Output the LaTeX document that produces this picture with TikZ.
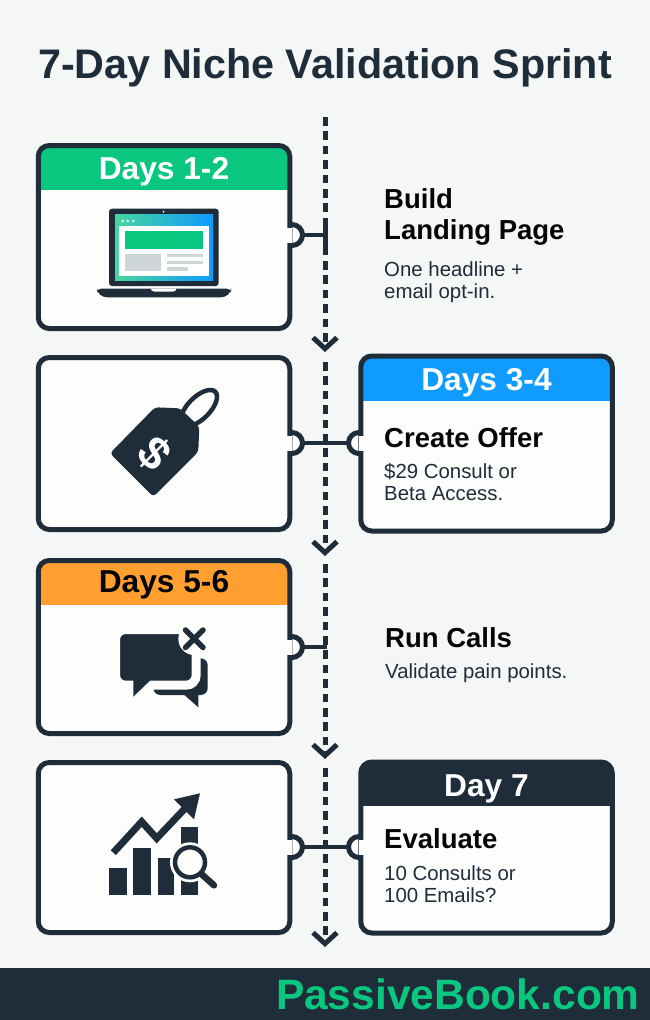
\documentclass[tikz,border=0pt]{standalone}
\usepackage{fontspec}
\setmainfont{Liberation Sans}
\usetikzlibrary{positioning,calc,arrows.meta}
\definecolor{navy}{HTML}{1F2D3A}
\definecolor{paper}{HTML}{F5F6F6}
\definecolor{cardwhite}{HTML}{FDFDFC}
\definecolor{hgreen}{HTML}{0AC77F}
\definecolor{hblue}{HTML}{0F9BFF}
\definecolor{horange}{HTML}{FF9F30}
\definecolor{softgray}{HTML}{CFD6D8}
\tikzset{
	card/.style={draw=navy,line width=5pt,fill=cardwhite,rounded corners=11pt,inner sep=0pt,outer sep=0pt,minimum width=251.5pt},
	cardhead/.style 2 args={path picture={\fill[#1,sharp corners] (path picture bounding box.north west) rectangle ([yshift=-#2]path picture bounding box.north east);}},
	headtext/.style={anchor=base,inner sep=0pt,font=\fontsize{31.7}{32}\selectfont\bfseries},
	steptitle/.style={anchor=base west,align=left,inner sep=0pt,text=black!90!navy,font=\fontsize{27.5}{31}\selectfont\bfseries},
	stepbody/.style={anchor=base west,align=left,inner sep=0pt,text=navy,font=\fontsize{20.4}{22}\selectfont},
	notch/.style={circle,draw=navy,line width=5pt,fill=cardwhite,minimum size=21pt,inner sep=0pt,outer sep=0pt},
	notchgap/.style={fill=cardwhite,minimum width=7pt,minimum height=15pt,inner sep=0pt,outer sep=0pt},
	linkline/.style={draw=navy,line width=4.5pt},
	spine/.style={draw=navy,line width=5pt,dash pattern=on 8.5pt off 5.9pt,-{Straight Barb[length=11pt,width=24pt,line width=5pt]}},
}
\begin{document}
\begin{tikzpicture}[x=1pt,y=-1pt]
	\useasboundingbox[fill=paper] (0,0) rectangle (650,1020);
	
	\node[anchor=base,inner sep=0pt,text=navy,font=\fontsize{41.3}{41}\selectfont\bfseries] (title) at (325,78) {7-Day Niche Validation Sprint};
	
	\coordinate (s0) at (325,117);
	\coordinate (s1) at (325,352);
	\coordinate (s2a) at (325,362);
	\coordinate (s2) at (325,556);
	\coordinate (s3a) at (325,564);
	\coordinate (s3) at (325,759);
	\coordinate (s4a) at (325,768);
	\coordinate (s4) at (325,947);
	\draw[spine] (s0)--(s1);
	\draw[spine] (s2a)--(s2);
	\draw[spine] (s3a)--(s3);
	\draw[spine] (s4a)--(s4);
	
	\node[notch] (n1) at (292,235) {};
	\node[notch] (n2) at (292,443) {};
	\node[notch] (n2r) at (359,443) {};
	\node[notch] (n3) at (292,647) {};
	\node[notch] (n4) at (292,847) {};
	\node[notch] (n4r) at (359,847) {};
	
	\node[card,cardhead={hgreen}{44.25pt},minimum height=183pt] (card1) at (164,237) {};
	\node[card,minimum height=172pt,below=29pt of card1] (card2) {};
	\node[card,cardhead={horange}{44.25pt},minimum height=173pt,below=31pt of card2] (card3) {};
	\node[card,minimum height=170pt,below=29pt of card3] (card4) {};
	\node[card,cardhead={hblue}{45.25pt},minimum height=175pt,right=71pt of card2] (card2r) {};
	\node[card,cardhead={navy}{44.25pt},minimum height=171pt,right=71pt of card4] (card4r) {};
	
	\node[notchgap,anchor=east] (g1) at (n1.center) {};
	\node[notchgap,anchor=east] (g2) at (n2.center) {};
	\node[notchgap,anchor=west] (g2r) at (n2r.center) {};
	\node[notchgap,anchor=east] (g3) at (n3.center) {};
	\node[notchgap,anchor=east] (g4) at (n4.center) {};
	\node[notchgap,anchor=west] (g4r) at (n4r.center) {};
	
	\coordinate (j1) at (325,235);
	\coordinate (j3) at (327,647);
	\draw[linkline] (n1.east)--(j1);
	\draw[linkline] (n2.east)--(n2r.west);
	\draw[linkline] (n3.east)--(j3);
	\draw[linkline] (n4.east)--(n4r.west);
	\draw[line width=5pt,draw=navy] ([yshift=10pt]j1)--([yshift=-12pt]j1);
	
	\node[headtext,text=white] (h1) at ([yshift=-34.25pt]card1.north) {Days 1-2};
	\node[headtext,text=white] (h2) at ([yshift=-34.25pt]card2r.north) {Days 3-4};
	\node[headtext,text=black!90!navy] (h3) at ([yshift=-32.25pt]card3.north) {Days 5-6};
	\node[headtext,text=white] (h4) at ([yshift=-34.25pt]card4r.north) {Day 7};
	
	\node[steptitle] (t1) at (384,208) {Build};
	\node[steptitle] (t1b) at (384,239) {Landing Page};
	\node[stepbody] (b1) at (384,276) {One headline +};
	\node[stepbody] (b1b) at (384,298) {email opt-in.};
	\node[steptitle] (t2) at (384,447) {Create Offer};
	\node[stepbody] (b2) at (384,478) {\$29 Consult or};
	\node[stepbody] (b2b) at (384,500) {Beta Access.};
	\node[steptitle] (t3) at (385,647) {Run Calls};
	\node[stepbody] (b3) at (385,678) {Validate pain points.};
	\node[steptitle] (t4) at (384,848) {Evaluate};
	\node[stepbody] (b4) at (384,880) {10 Consults or};
	\node[stepbody] (b4b) at (384,902) {100 Emails?};
	
	\fill[navy,rounded corners=3pt] (109,208.7) rectangle (218.7,286);
	\shade[left color=hgreen!75!white,right color=hblue] (115,214.7) rectangle (213,280.7);
	\fill[white] (119.3,226) rectangle (209,275.7);
	\fill[hgreen] (125,230.7) rectangle (203.3,249.3);
	\fill[softgray] (125,254) rectangle (161,271);
	\fill[softgray] (166.7,254) rectangle (203.3,257.3);
	\fill[softgray] (166.7,260.7) rectangle (203.3,264);
	\fill[softgray] (166.7,267.3) rectangle (187.7,270.7);
	\fill[white] (122.7,221) circle[radius=1.3pt] (127.7,221) circle[radius=1.3pt] (133.3,221) circle[radius=1.3pt];
	\fill[white] (163.7,211.7) circle[radius=1pt];
	\fill[navy,rounded corners=4pt] (97,288.7)--(97,292)--(103,297.3)--(225,297.3)--(231,292)--(231,288.7)--cycle;
	\fill[cardwhite,rounded corners=1.5pt] (150,288.7)--(153,291.7)--(174.3,291.7)--(177.3,288.7)--cycle;
	
	\fill[navy,rounded corners=3.5pt] (110,453.3)--(155,407.3)--(180,408.3)--(199.3,426.7)--(198.3,451.7)--(153.3,496.7)--cycle;
	\draw[cardwhite,line width=7pt,rotate around={-45:(200,406.7)}] (186,406.7) arc[start angle=180,end angle=250,x radius=14pt,y radius=7pt];
	\draw[navy,line width=4.5pt] (199,408) ellipse[x radius=23pt,y radius=11pt,rotate=45];
	\node[rotate=-45,inner sep=0pt,text=white,font=\fontsize{46}{46}\selectfont\bfseries] (dollar) at (154,454) {\$};
	
	\fill[navy,rounded corners=7pt] (153.3,658.3) rectangle (207.7,695);
	\fill[navy] (183.3,694)--(198.3,707.3)--(198.3,694)--cycle;
	\filldraw[navy,draw=cardwhite,line width=9pt,rounded corners=10pt] (115.5,629.5) rectangle (196.2,685.2);
	\fill[navy] (133.3,679)--(133.3,696.7)--(151.7,679)--cycle;
	\fill[cardwhite] (194.3,639) circle[radius=16pt];
	\draw[navy,line width=5.5pt,line cap=round] (185.5,630)--(203,647.5);
	\draw[navy,line width=5.5pt,line cap=round] (203,630)--(185.5,647.5);
	
	\fill[navy] (109.3,867.7) rectangle (126.7,895);
	\fill[navy] (133.3,848.3) rectangle (150.7,895);
	\fill[navy] (157.7,857.7) rectangle (174.3,895);
	\fill[navy] (181.3,826.7) rectangle (198.3,895);
	\draw[navy,line width=7pt] (113.3,852.7)--(141.7,821.7)--(156.7,838.3)--(188.3,805);
	\fill[navy] (200,793.3)--(174,799.3)--(194,819.3)--cycle;
	\filldraw[fill=cardwhite,draw=cardwhite,line width=5pt] (190,862.3) circle[radius=17.5pt];
	\draw[navy,line width=6.5pt,line cap=round] (202,874.5)--(214,885.3);
	\draw[navy,line width=4.5pt] (190,862.3) circle[radius=15pt];
	
	\node[fill=navy,minimum width=650pt,minimum height=52pt,inner sep=0pt,outer sep=0pt,anchor=south west] (footer) at (0,1020) {};
	\node[anchor=base east,inner sep=0pt,text=hgreen,font=\fontsize{42.5}{43}\selectfont\bfseries] (brand) at (640,1009) {PassiveBook.com};
\end{tikzpicture}
\end{document}
